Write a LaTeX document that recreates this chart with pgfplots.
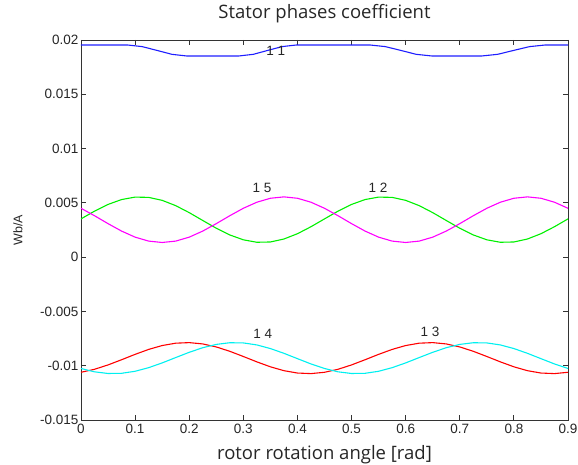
\documentclass[border=0pt]{standalone}
\usepackage{fontspec}
\setmainfont{Liberation Sans}
\newfontfamily\titlefont{Open Sans}
\usepackage{pgfplots}
\pgfplotsset{compat=1.18}

\begin{document}
\begin{tikzpicture}
\begin{axis}[
  at={(0,0)}, anchor=south west,
  scale only axis, width=487pt, height=380pt,
  xmin=0, xmax=0.9, ymin=-0.015, ymax=0.02,
  scaled y ticks=false, scaled x ticks=false,
  xtick={0,0.1,0.2,0.3,0.4,0.5,0.6,0.7,0.8,0.9},
  xticklabels={0,0.1,0.2,0.3,0.4,0.5,0.6,0.7,0.8,0.9},
  ytick={-0.015,-0.01,-0.005,0,0.005,0.01,0.015,0.02},
  yticklabels={-0.015,-0.01,-0.005,0,0.005,0.01,0.015,0.02},
  tick align=inside,
  major tick length=5pt,
  axis line style={draw=black!80, line width=0.8pt},
  tick style={draw=black!80, line width=0.8pt},
  ticklabel style={font=\fontsize{13.5}{14}\selectfont, text=black!85},
  xticklabel style={yshift=-1pt},
  yticklabel style={xshift=1pt},
  title={\titlefont\fontsize{18.5}{19}\selectfont Stator phases coefficient},
  title style={at={(axis description cs:0.5,1)}, anchor=base, yshift=15pt, text=black!85},
  xlabel={\titlefont\fontsize{18.5}{19}\selectfont rotor rotation angle [rad]},
  xlabel style={at={(axis description cs:0.5,0)}, anchor=base, yshift=-39.5pt, text=black!85},
  ylabel={\fontsize{12.5}{13}\selectfont Wb/A},
  ylabel style={at={(axis description cs:0,0.5)}, anchor=center, yshift=63pt, text=black!85},
  every axis plot/.append style={line width=1.1pt, line join=round},
]
% self inductance of phase 1
\addplot[color={rgb,255:red,30;green,30;blue,255}] coordinates {
(0,0.01954) (0.086,0.01954) (0.113,0.01939) (0.1405,0.01904) (0.168,0.01868)
(0.195,0.01853) (0.292,0.01853) (0.3185,0.01868) (0.345,0.01904) (0.3715,0.01939)
(0.398,0.01954) (0.534,0.01954) (0.5625,0.01939) (0.591,0.01904) (0.6195,0.01868)
(0.648,0.01853) (0.741,0.01853) (0.770,0.01868) (0.7995,0.01904) (0.829,0.01939)
(0.858,0.01954) (0.9,0.01954)};
% mutual 1-2
\addplot[color={rgb,255:red,0;green,240;blue,0}] coordinates {
(0,0.003523) (0.025,0.004237) (0.05,0.004855) (0.075,0.005304) (0.1,0.005530)
(0.125,0.005504) (0.15,0.005231) (0.175,0.004743) (0.2,0.004099) (0.225,0.003377)
(0.25,0.002663) (0.275,0.002045) (0.3,0.001596) (0.325,0.001370) (0.35,0.001396)
(0.375,0.001669) (0.4,0.002157) (0.425,0.002801) (0.45,0.003523) (0.475,0.004237)
(0.5,0.004855) (0.525,0.005304) (0.55,0.005530) (0.575,0.005504) (0.6,0.005231)
(0.625,0.004743) (0.65,0.004099) (0.675,0.003377) (0.7,0.002663) (0.725,0.002045)
(0.75,0.001596) (0.775,0.001370) (0.8,0.001396) (0.825,0.001669) (0.85,0.002157)
(0.875,0.002801) (0.9,0.003523)};
% mutual 1-5
\addplot[color={rgb,255:red,255;green,0;blue,255}] coordinates {
(0,0.004500) (0.025,0.003815) (0.05,0.003085) (0.075,0.002400) (0.1,0.001841)
(0.125,0.001477) (0.15,0.001350) (0.175,0.001477) (0.2,0.001841) (0.225,0.002400)
(0.25,0.003085) (0.275,0.003815) (0.3,0.004500) (0.325,0.005059) (0.35,0.005423)
(0.375,0.005550) (0.4,0.005423) (0.425,0.005059) (0.45,0.004500) (0.475,0.003815)
(0.5,0.003085) (0.525,0.002400) (0.55,0.001841) (0.575,0.001477) (0.6,0.001350)
(0.625,0.001477) (0.65,0.001841) (0.675,0.002400) (0.7,0.003085) (0.725,0.003815)
(0.75,0.004500) (0.775,0.005059) (0.8,0.005423) (0.825,0.005550) (0.85,0.005423)
(0.875,0.005059) (0.9,0.004500)};
% mutual 1-3
\addplot[color={rgb,255:red,255;green,0;blue,0}] coordinates {
(0,-0.010606) (0.025,-0.010329) (0.05,-0.009927) (0.075,-0.009449) (0.1,-0.008954)
(0.125,-0.008500) (0.15,-0.008143) (0.175,-0.007925) (0.2,-0.007873) (0.225,-0.007994)
(0.25,-0.008271) (0.275,-0.008673) (0.3,-0.009151) (0.325,-0.009646) (0.35,-0.010100)
(0.375,-0.010457) (0.4,-0.010675) (0.425,-0.010727) (0.45,-0.010606) (0.475,-0.010329)
(0.5,-0.009927) (0.525,-0.009449) (0.55,-0.008954) (0.575,-0.008500) (0.6,-0.008143)
(0.625,-0.007925) (0.65,-0.007873) (0.675,-0.007994) (0.7,-0.008271) (0.725,-0.008673)
(0.75,-0.009151) (0.775,-0.009646) (0.8,-0.010100) (0.825,-0.010457) (0.85,-0.010675)
(0.875,-0.010727) (0.9,-0.010606)};
% mutual 1-4
\addplot[color={rgb,255:red,0;green,240;blue,240}] coordinates {
(0,-0.010257) (0.025,-0.010563) (0.05,-0.010716) (0.075,-0.010699) (0.1,-0.010513)
(0.125,-0.010180) (0.15,-0.009742) (0.175,-0.009250) (0.2,-0.008764) (0.225,-0.008343)
(0.25,-0.008037) (0.275,-0.007884) (0.3,-0.007901) (0.325,-0.008087) (0.35,-0.008420)
(0.375,-0.008858) (0.4,-0.009350) (0.425,-0.009836) (0.45,-0.010257) (0.475,-0.010563)
(0.5,-0.010716) (0.525,-0.010699) (0.55,-0.010513) (0.575,-0.010180) (0.6,-0.009742)
(0.625,-0.009250) (0.65,-0.008764) (0.675,-0.008343) (0.7,-0.008037) (0.725,-0.007884)
(0.75,-0.007901) (0.775,-0.008087) (0.8,-0.008420) (0.825,-0.008858) (0.85,-0.009350)
(0.875,-0.009836) (0.9,-0.010257)};
% curve tags
\begin{scope}[every node/.style={font=\fontsize{13.5}{14}\selectfont, text=black!85}]
\node at (axis cs:0.36,0.0190) {1 1};
\node at (axis cs:0.3345,0.00635) {1 5};
\node at (axis cs:0.549,0.00635) {1 2};
\node at (axis cs:0.336,-0.00705) {1 4};
\node at (axis cs:0.645,-0.00690) {1 3};
\end{scope}
\end{axis}
\pgfresetboundingbox
\path (-81pt,-45pt) rectangle (497pt,420pt);
\end{tikzpicture}
\end{document}
